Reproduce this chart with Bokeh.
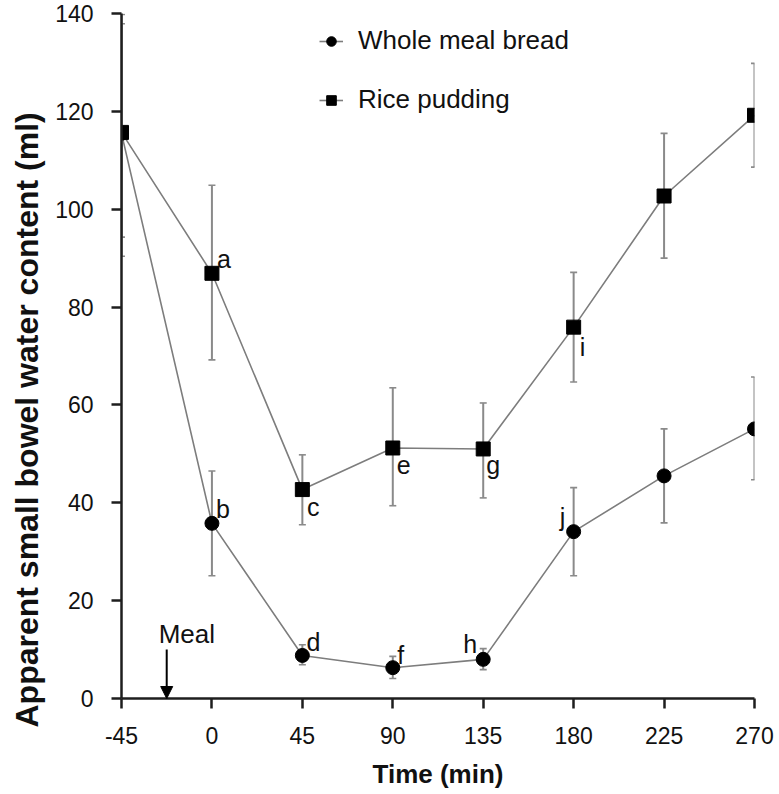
from bokeh.plotting import figure
from bokeh.models import (ColumnDataSource, Range1d, FixedTicker, Legend, LegendItem,
                          Arrow, NormalHead, Title)
from bokeh.core.properties import value
from bokeh.embed import file_html
from bokeh.resources import INLINE

# ---------------- data ----------------
time_min = [-45, 0, 45, 90, 135, 180, 225, 270]

bread_mean = [115.5, 35.8, 8.8, 6.3, 8.0, 34.1, 45.5, 55.1]
bread_lower = [94.3, 25.1, 6.9, 4.1, 5.9, 25.1, 35.9, 44.7]
bread_upper = [137.9, 46.5, 11.0, 8.6, 10.2, 43.1, 55.1, 65.7]

rice_mean = [115.7, 86.9, 42.7, 51.2, 51.0, 75.9, 102.7, 119.2]
rice_lower = [90.4, 69.2, 35.5, 39.4, 41.0, 64.7, 90.0, 108.6]
rice_upper = [139.8, 104.9, 49.8, 63.5, 60.4, 87.1, 115.5, 129.8]

letters = ["a", "b", "c", "d", "e", "f", "g", "h", "i", "j"]
letter_series = ["rice", "bread", "rice", "bread", "rice", "bread", "rice", "bread", "rice", "bread"]
letter_time = [0, 0, 45, 45, 90, 90, 135, 135, 180, 180]

x_ticks = [-45, 0, 45, 90, 135, 180, 225, 270]
x_tick_labels = ["-45", "0", "45", "90", "135", "180", "225", "270"]
y_ticks = [0, 20, 40, 60, 80, 100, 120, 140]

x_title = "Time (min)"
y_title = "Apparent small bowel water content (ml)"
series_names = ["Whole meal bread", "Rice pudding"]

meal_time = -22.5
meal_arrow_top = 10
meal_label = "Meal"

# ---------------- styles ----------------
FONT = "Liberation Sans"
LINE_GRAY = "#7d7d7d"
ERR_GRAY = "#8a8a8a"
AXIS_COL = "#1e1e1e"
TEXT_COL = "#111111"
# pixel offsets of the letter labels (style, not data)
letter_dx = [12, 11, 11, 11, 11, 8, 10, -13, 9, -11]
letter_dy = [-14, -14, 17, -13, 17, -13, 16, -15, 20, -15]

p = figure(width=777, height=794, output_backend="svg", toolbar_location=None,
           x_range=Range1d(-45, 270), y_range=Range1d(0, 140),
           min_border_left=120, min_border_right=23, min_border_top=13, min_border_bottom=96)
p.outline_line_color = None
p.xgrid.visible = False
p.ygrid.visible = False
p.background_fill_color = "white"
p.border_fill_color = "white"

for ax in (p.xaxis[0], p.yaxis[0]):
    ax.axis_line_color = AXIS_COL
    ax.axis_line_width = 2.5
    ax.major_tick_line_color = AXIS_COL
    ax.major_tick_line_width = 2.5
    ax.major_tick_out = 10
    ax.major_tick_in = 0
    ax.minor_tick_line_color = None
    ax.major_label_text_font = FONT
    ax.major_label_text_font_size = "23px"
    ax.major_label_text_color = TEXT_COL

p.xaxis.ticker = FixedTicker(ticks=x_ticks)
p.xaxis.major_label_overrides = {t: s for t, s in zip(x_ticks, x_tick_labels)}
p.yaxis.ticker = FixedTicker(ticks=y_ticks)
p.xaxis.major_label_standoff = 18
p.yaxis.major_label_standoff = 18

p.xaxis.axis_label = x_title
p.xaxis.axis_label_text_font = FONT
p.xaxis.axis_label_text_font_size = "26px"
p.xaxis.axis_label_text_font_style = "bold"
p.xaxis.axis_label_text_color = TEXT_COL
p.xaxis.axis_label_standoff = 12

p.add_layout(Title(text=y_title, align="left", offset=-29, standoff=14,
                   vertical_align="middle",
                   text_font=FONT, text_font_size="32px", text_font_style="bold",
                   text_color=TEXT_COL), "left")

bread_src = ColumnDataSource(dict(x=time_min, y=bread_mean, lo=bread_lower, hi=bread_upper))
rice_src = ColumnDataSource(dict(x=time_min, y=rice_mean, lo=rice_lower, hi=rice_upper))

renderers = {}
for name, src, marker in (("bread", bread_src, "circle"), ("rice", rice_src, "square")):
    p.segment(x0="x", y0="lo", x1="x", y1="hi", source=src, line_color=ERR_GRAY, line_width=2)
    p.scatter(x="x", y="lo", source=src, marker="dash", size=7, line_color=ERR_GRAY, line_width=1.6)
    p.scatter(x="x", y="hi", source=src, marker="dash", size=7, line_color=ERR_GRAY, line_width=1.6)
    ln = p.line(x="x", y="y", source=src, line_color=LINE_GRAY, line_width=1.6)
    mk = p.scatter(x="x", y="y", source=src, marker=marker, size=14,
                   fill_color="black", line_color="black")
    renderers[name] = (ln, mk)

# letters
means = {"bread": dict(zip(time_min, bread_mean)), "rice": dict(zip(time_min, rice_mean))}
letter_y = [means[s][t] for s, t in zip(letter_series, letter_time)]
lsrc = ColumnDataSource(dict(x=letter_time, y=letter_y, t=letters, dx=letter_dx, dy=letter_dy))
p.text(x="x", y="y", text="t", source=lsrc, x_offset="dx", y_offset="dy",
       text_font=value(FONT), text_font_size="25px", text_color=TEXT_COL,
       text_align="center", text_baseline="middle")

# meal arrow and label
p.add_layout(Arrow(end=NormalHead(size=12, fill_color="black", line_color="black"),
                   x_start=meal_time, y_start=meal_arrow_top, x_end=meal_time, y_end=0,
                   line_color="black", line_width=2))
p.text(x=[meal_time], y=[meal_arrow_top], text=[meal_label], x_offset=-8, y_offset=-1,
       text_font=value(FONT), text_font_size="26px", text_color=TEXT_COL,
       text_align="left", text_baseline="bottom")

legend = Legend(items=[LegendItem(label=series_names[0], renderers=list(renderers["bread"])),
                       LegendItem(label=series_names[1], renderers=list(renderers["rice"]))],
                location=(198, 583), padding=0, margin=0, spacing=28,
                glyph_width=24, glyph_height=30, label_height=30, label_standoff=15,
                label_text_font=FONT, label_text_font_size="26px", label_text_color=TEXT_COL,
                border_line_color=None, background_fill_alpha=0)
p.add_layout(legend)

open("out.html", "w").write(file_html(p, INLINE))
